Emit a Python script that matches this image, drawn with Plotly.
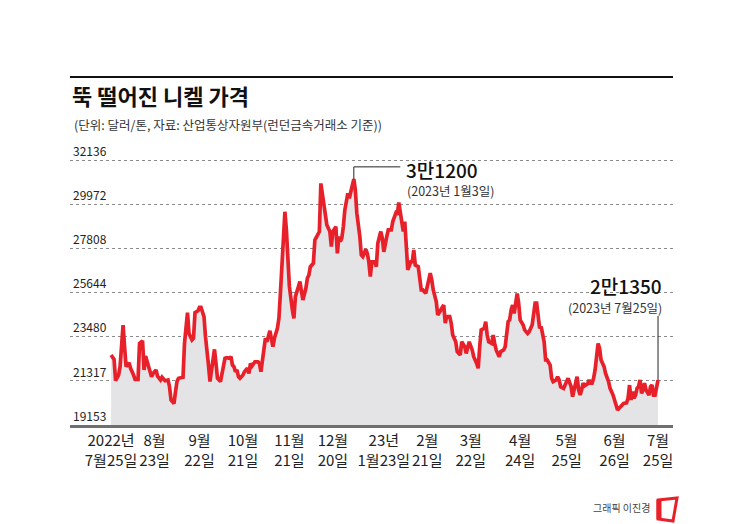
import pandas as pd
import plotly.graph_objects as go

# nickel price (USD/ton); x = days since 2022-07-25
start_date = "2022-07-25"
day_offset = [
    0, 2, 3, 5, 6, 8, 9, 10, 12, 13, 15, 16, 18, 19, 21, 22, 23, 24, 26, 27,
    28, 30, 31, 33, 34, 36, 38, 39, 40, 42, 43, 44, 45, 47, 48, 49, 51, 52, 54, 55,
    56, 58, 59, 60, 62, 63, 64, 65, 66, 67, 69, 70, 71, 73, 74, 76, 77, 79, 80, 81,
    82, 83, 84, 85, 86, 88, 89, 91, 92, 93, 94, 96, 98, 99, 100, 102, 103, 104, 106, 108,
    109, 111, 112, 113, 114, 116, 117, 118, 119, 121, 122, 123, 124, 125, 126, 127, 128, 130, 131, 132,
    133, 135, 136, 137, 139, 140, 142, 143, 144, 146, 147, 148, 150, 151, 152, 153, 154, 155, 156, 158,
    159, 160, 161, 162, 163, 164, 166, 167, 168, 170, 171, 172, 173, 174, 176, 177, 178, 180, 181, 182,
    184, 185, 187, 188, 190, 191, 192, 194, 195, 196, 197, 198, 200, 201, 202, 203, 205, 206, 207, 208,
    210, 211, 213, 214, 215, 217, 218, 220, 222, 223, 224, 226, 227, 228, 230, 231, 233, 234, 236, 237,
    239, 241, 242, 244, 245, 246, 247, 249, 250, 251, 252, 254, 255, 256, 257, 259, 260, 262, 263, 265,
    266, 267, 268, 269, 270, 271, 272, 273, 275, 276, 278, 279, 281, 282, 283, 284, 285, 286, 287, 289,
    290, 291, 293, 294, 295, 297, 298, 299, 300, 302, 304, 305, 307, 308, 309, 310, 311, 312, 313, 314,
    315, 316, 318, 319, 320, 321, 322, 323, 324, 325, 326, 327, 329, 330, 332, 333, 335, 337, 338, 340,
    341, 342, 344, 345, 346, 347, 348, 349, 350, 351, 352, 353, 354, 355, 356, 357, 359, 360, 361, 362,
    363, 364, 365,
]
price = [
    22580, 22370, 21330, 21600, 22010, 24050, 22990, 22010, 22200, 21930, 21600, 21390, 21390, 23150, 23280, 21850, 22530, 22250, 21760, 21520,
    21680, 21850, 21550, 21360, 21490, 21320, 21360, 21030, 20380, 20210, 20790, 21280, 21440, 21490, 21490, 23150, 24660, 23640, 23320, 23400,
    24660, 24750, 24920, 24920, 24460, 23480, 22500, 22090, 21280, 21850, 22860, 22180, 21440, 21280, 21760, 22420, 22450, 22420, 22500, 22090,
    22010, 21760, 21850, 21520, 21440, 21600, 21760, 21930, 21680, 22170, 22040, 22250, 22250, 22170, 21760, 22740, 23400, 23230, 23770, 22990,
    23400, 23890, 24380, 25600, 26750, 29600, 28700, 27560, 25930, 24790, 24380, 25440, 25770, 25930, 26180, 25770, 25280, 25850, 26340, 26500,
    26910, 27080, 28220, 28350, 28630, 30990, 29840, 29360, 28950, 28630, 27890, 28630, 28870, 27560, 28390, 28140, 28310, 28870, 29690, 30500,
    30260, 30580, 30910, 31200, 30670, 29530, 28390, 27480, 27400, 27760, 27560, 27150, 26420, 27150, 27150, 26910, 28060, 28630, 28310, 27640,
    28390, 28710, 28710, 29120, 29530, 29450, 30050, 29120, 28630, 29120, 27400, 26750, 27150, 27150, 27730, 26990, 26910, 26100, 25770, 25770,
    25600, 25930, 26590, 26260, 25770, 25200, 24540, 24790, 25030, 24140, 24460, 24460, 24140, 23560, 23230, 22740, 22580, 23230, 22990, 22660,
    23230, 22830, 22500, 22170, 21930, 22990, 23810, 23890, 24220, 23560, 23230, 23150, 23560, 23150, 22830, 22500, 22740, 22830, 22990, 24220,
    24300, 24800, 25030, 24620, 25200, 25600, 25120, 24300, 24050, 23810, 23640, 23720, 24050, 24710, 25120, 25120, 24380, 23890, 23970, 23230,
    22340, 22340, 22090, 21440, 21280, 21360, 21520, 21360, 21030, 20950, 21280, 21440, 21030, 20540, 20870, 21280, 21520, 20870, 20620, 20870,
    21200, 21070, 21170, 21360, 21200, 21200, 21440, 21850, 22500, 23150, 22910, 22340, 22010, 21680, 21280, 20950, 20620, 20130, 19890, 20050,
    20130, 20210, 20240, 20460, 21110, 20380, 20790, 20460, 20620, 20950, 21030, 21360, 20700, 20870, 21200, 20870, 20620, 21030, 21110, 20620,
    20620, 21030, 21350,
]

tick_dates = ["2022-07-25", "2022-08-23", "2022-09-22", "2022-10-21", "2022-11-21",
              "2022-12-20", "2023-01-23", "2023-02-21", "2023-03-22", "2023-04-24",
              "2023-05-25", "2023-06-26", "2023-07-25"]
tick_text = ["2022년<br>7월25일", "8월<br>23일", "9월<br>22일", "10월<br>21일", "11월<br>21일",
             "12월<br>20일", "23년<br>1월23일", "2월<br>21일", "3월<br>22일", "4월<br>24일",
             "5월<br>25일", "6월<br>26일", "7월<br>25일"]
y_ticks = [19153, 21317, 23480, 25644, 27808, 29972, 32136]

dates = pd.Timestamp(start_date) + pd.to_timedelta(day_offset, unit="D")

FONT = "Noto Sans CJK KR"
W, H = 745, 524
L, R, T, B = 70, 72, 132, 99
Y_TOP = 33508  # headroom so the 32136 label stays inside the plot


# pixel -> paper helpers for the decorations
def px(x):
    return (x - L) / (W - L - R)


def py(y):
    return (H - B - y) / (H - B - T)


fig = go.Figure()
fig.add_trace(go.Scatter(
    x=dates, y=price, mode="lines",
    line=dict(color="#e8202a", width=3.7),
    fill="tozeroy", fillcolor="#e4e4e6",
    hoverinfo="x+y",
))

peak_i = price.index(max(price))
peak_x, peak_y = dates[peak_i], price[peak_i]
last_x, last_y = dates[-1], price[-1]

shapes = [
    # black rule above the title
    dict(type="line", xref="paper", yref="paper", x0=0, x1=1, y0=py(77), y1=py(77),
         line=dict(color="#111", width=2)),
    # peak connector
    dict(type="path", xref="x", yref="y",
         path=f"M {peak_x:%Y-%m-%d},{peak_y} L {peak_x:%Y-%m-%d},{peak_y + 600} "
              f"L {(peak_x + pd.Timedelta(days=31)):%Y-%m-%d},{peak_y + 600}",
         line=dict(color="#222", width=1)),
    # last value connector
    dict(type="line", xref="x", yref="y", x0=last_x, x1=last_x, y0=last_y, y1=last_y + 3150,
         line=dict(color="#222", width=1)),
    # logo
    dict(type="path", xref="paper", yref="paper",
         path=f"M {px(658)},{py(500)} L {px(677)},{py(498)} L {px(673)},{py(521)} L {px(658)},{py(519)} Z",
         line=dict(color="#e8202a", width=3), fillcolor="white"),
    dict(type="line", xref="paper", yref="paper", x0=px(659), x1=px(659), y0=py(500), y1=py(519),
         line=dict(color="#e8202a", width=5)),
]

annotations = [
    dict(text="(단위: 달러/톤, 자료: 산업통상자원부(런던금속거래소 기준))", x=px(72), y=py(124),
         font=dict(size=12.5, color="#333")),
    dict(text="3만1200", x=px(404), y=py(169), font=dict(size=19, color="#111", weight=500)),
    dict(text="(2023년 1월3일)", x=px(405), y=py(190), font=dict(size=12.5, color="#333")),
    dict(text="2만1350", x=px(664), y=py(285), xanchor="right",
         font=dict(size=19, color="#111", weight=500)),
    dict(text="(2023년 7월25일)", x=px(664), y=py(307), xanchor="right", font=dict(size=12.5, color="#333")),
    dict(text="그래픽 이진경", x=px(652), y=py(507), xanchor="right", font=dict(size=10, color="#444")),
]
for a in annotations:
    a.setdefault("xanchor", "left")
    a.update(xref="paper", yref="paper", yanchor="middle", showarrow=False)

fig.update_layout(
    width=W, height=H,
    margin=dict(l=L, r=R, t=T, b=B),
    paper_bgcolor="white", plot_bgcolor="white",
    font=dict(family=FONT, color="#222"),
    showlegend=False,
    title=dict(text="<b>뚝 떨어진 니켈 가격</b>", x=72 / W, xanchor="left",
               y=1 - 97 / H, yanchor="middle", font=dict(size=22, color="#111")),
    xaxis=dict(
        type="date",
        range=["2022-06-27 14:00", "2023-08-04"],
        tickvals=tick_dates, ticktext=tick_text, tickangle=0,
        tickfont=dict(size=15, color="#222"),
        showgrid=False, zeroline=False,
        showline=True, linecolor="#6f6f6f", linewidth=3,
        ticks="", layer="above traces",
    ),
    yaxis=dict(
        range=[19153, Y_TOP],
        tickvals=y_ticks, ticktext=[str(v) for v in y_ticks],
        ticklabelposition="inside top",
        tickfont=dict(size=12, color="#222"),
        showgrid=True, gridcolor="#8a8a8a", griddash="dot", gridwidth=1,
        zeroline=False, showline=False, ticks="",
        layer="above traces",
    ),
    shapes=shapes,
    annotations=annotations,
)

# drop the default 8px page margin so pixel positions line up
fig.write_html("out.html", config={"displayModeBar": False},
               post_script="document.body.style.margin='0';")
